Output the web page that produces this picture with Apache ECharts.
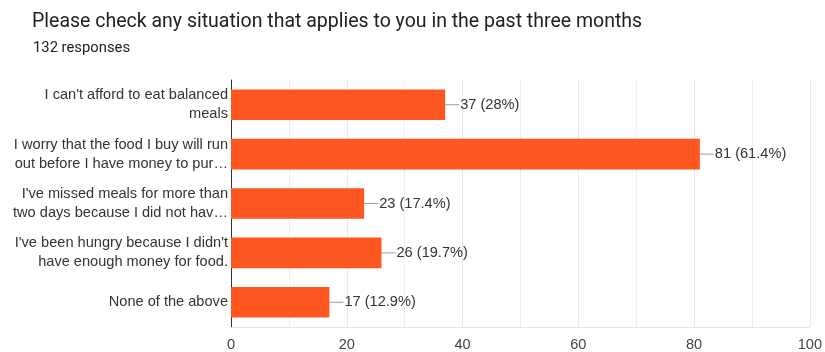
<!DOCTYPE html>
<html>
<head>
<meta charset="utf-8">
<style>
  html, body { margin: 0; padding: 0; background: #fff; }
  #chart { width: 825px; height: 352px; }
</style>
<script src="https://cdn.jsdelivr.net/npm/echarts@6/dist/echarts.min.js"></script>
</head>
<body>
<div id="chart"></div>
<script>
// Survey answers (multiple choice, checkbox question)
const categories = [
  "I can't afford to eat balanced\nmeals",
  "I worry that the food I buy will run\nout before I have money to pur\u2026",
  "I've missed meals for more than\ntwo days because I did not hav\u2026",
  "I've been hungry because I didn't\nhave enough money for food.",
  "None of the above"
];
const counts = [37, 81, 23, 26, 17];
const percents = ["28%", "61.4%", "17.4%", "19.7%", "12.9%"];
const xTicks = [0, 20, 40, 60, 80, 100];

const HEAD_FONT = "Roboto, Arial, sans-serif";
const FONT = "'Liberation Sans', Arial, sans-serif";
const LABEL_SIZE = 14.6;

const chart = echarts.init(document.getElementById('chart'), null, { renderer: 'canvas' });

chart.setOption({
  animation: false,
  backgroundColor: '#ffffff',
  title: [
    {
      text: 'Please check any situation that applies to you in the past three months',
      left: 27, top: 7,
      textStyle: { fontFamily: HEAD_FONT, fontSize: 19.5, fontWeight: 'normal', color: '#202124' }
    },
    {
      text: '132 responses',
      left: 28, top: 36,
      textStyle: { fontFamily: HEAD_FONT, fontSize: 14.8, fontWeight: 'normal', color: '#202124' }
    }
  ],
  grid: { left: 231, right: 14, top: 80, bottom: 23, containLabel: false },
  xAxis: {
    type: 'value',
    min: xTicks[0],
    max: xTicks[xTicks.length - 1],
    interval: 20,
    axisLine: { show: true, lineStyle: { color: '#e6e6e6', width: 1 } },
    axisTick: { show: false },
    axisLabel: { fontFamily: FONT, fontSize: LABEL_SIZE, color: '#444', margin: 10 },
    splitLine: { show: true, lineStyle: { color: '#e9e9e9', width: 1 } },
    minorTick: { show: false, splitNumber: 2 },
    minorSplitLine: { show: true, lineStyle: { color: '#efefef', width: 1 } }
  },
  yAxis: {
    type: 'category',
    data: categories,
    inverse: true,
    axisLine: { show: true, lineStyle: { color: '#333', width: 1 } },
    axisTick: { show: false },
    axisLabel: {
      fontFamily: FONT, fontSize: LABEL_SIZE, color: '#333', margin: 3,
      lineHeight: 19, align: 'right'
    },
    splitLine: { show: false }
  },
  series: [{
    type: 'bar',
    data: counts,
    barWidth: '62%',
    itemStyle: { color: '#ff5722' },
    label: {
      show: true,
      position: 'right',
      distance: 0,
      formatter: function (p) {
        return '{line|}{val|' + counts[p.dataIndex] + ' (' + percents[p.dataIndex] + ')}';
      },
      rich: {
        line: { width: 14, height: 1, backgroundColor: '#9e9e9e', verticalAlign: 'middle' },
        val: { fontFamily: FONT, fontSize: LABEL_SIZE, color: '#333', padding: [0, 0, 0, 1], verticalAlign: 'middle' }
      }
    }
  }]
});
</script>
</body>
</html>
